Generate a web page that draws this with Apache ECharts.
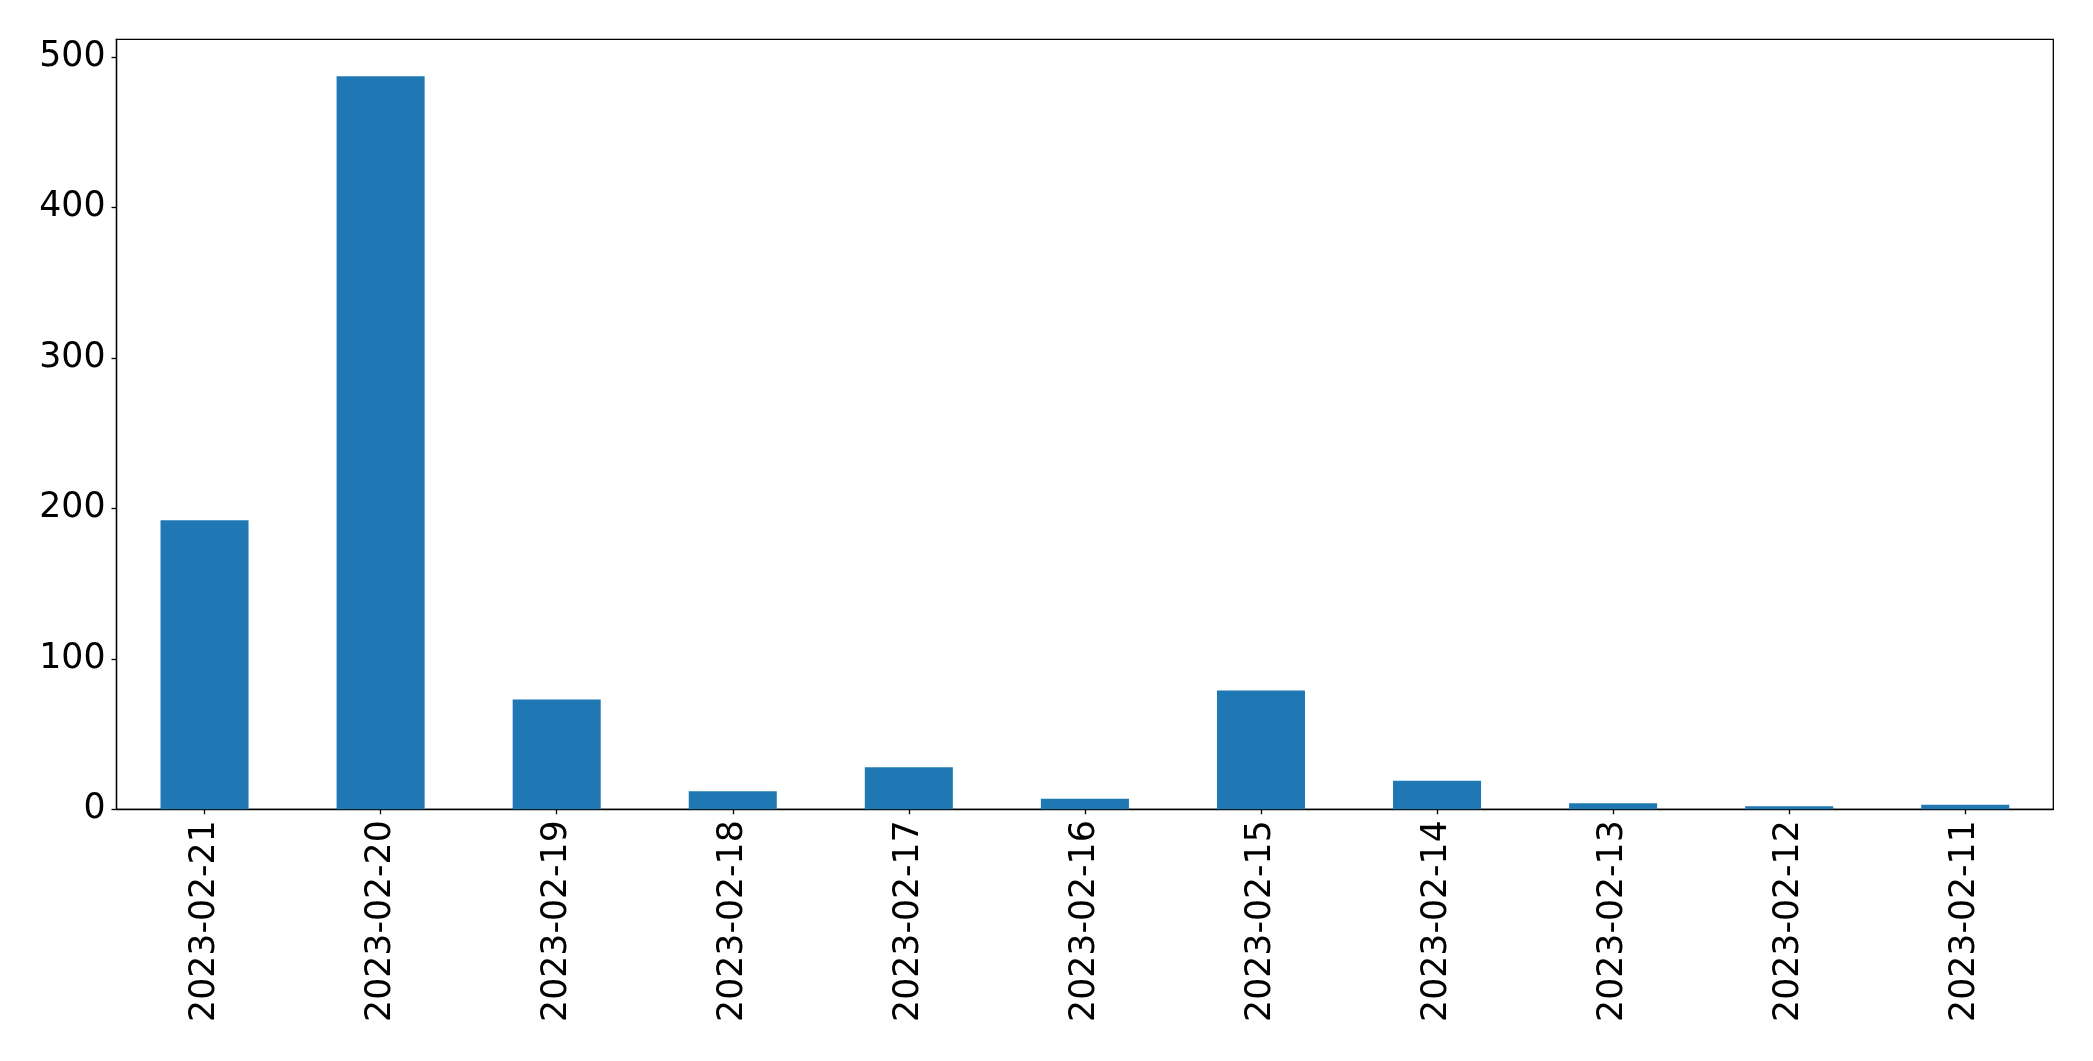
<!DOCTYPE html>
<html>
<head>
<meta charset="utf-8">
<script src="https://cdn.jsdelivr.net/npm/echarts@6/dist/echarts.min.js"></script>
<style>
html,body{margin:0;padding:0;background:#fff;}
#chart{width:2093px;height:1061px;}
</style>
</head>
<body>
<div id="chart"></div>
<script>
const categories = ["2023-02-21","2023-02-20","2023-02-19","2023-02-18","2023-02-17","2023-02-16","2023-02-15","2023-02-14","2023-02-13","2023-02-12","2023-02-11"];
const values = [192, 487, 73, 12, 28, 7, 79, 19, 4, 2, 3];
const yTicks = [0, 100, 200, 300, 400, 500];

const chart = echarts.init(document.getElementById('chart'), null, {renderer: 'canvas'});
const font = "DejaVu Sans";
chart.setOption({
  animation: false,
  backgroundColor: '#ffffff',
  grid: {
    left: 116.5, top: 39.3, right: 39.7, bottom: 251.7,
    show: true, borderColor: '#000', borderWidth: 1.3, backgroundColor: 'transparent'
  },
  xAxis: {
    type: 'category',
    data: categories,
    axisLine: {show: true, lineStyle: {color: '#000', width: 1.3}},
    axisTick: {show: true, alignWithLabel: true, length: 5, lineStyle: {color: '#000', width: 1.3}},
    axisLabel: {rotate: 90, fontSize: 34.7, fontFamily: font, color: '#000', margin: 11, interval: 0},
    splitLine: {show: false}
  },
  yAxis: {
    type: 'value',
    min: 0, max: 511.6, interval: 100,
    axisLine: {show: true, lineStyle: {color: '#000', width: 1.3}},
    axisTick: {show: true, length: 5, lineStyle: {color: '#000', width: 1.3}},
    axisLabel: {
      fontSize: 34.7, fontFamily: font, color: '#000', margin: 11,
      showMaxLabel: false,
      formatter: function (v) { return yTicks.indexOf(v) >= 0 ? String(v) : ''; }
    },
    splitLine: {show: false}
  },
  series: [{
    type: 'bar',
    data: values,
    barWidth: '50%',
    itemStyle: {color: '#1f77b4'}
  }]
});
</script>
</body>
</html>
